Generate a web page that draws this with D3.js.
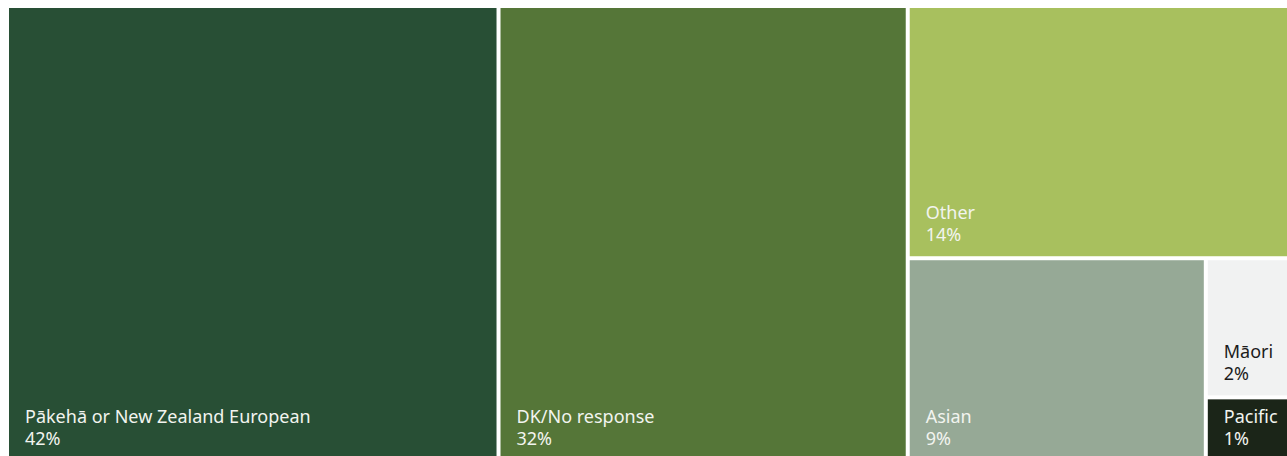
<!DOCTYPE html>
<html>
<head>
<meta charset="utf-8">
<script src="https://cdn.jsdelivr.net/npm/d3@7"></script>
<style>
  html, body { margin: 0; padding: 0; background: #ffffff; overflow: hidden; }
  svg { display: block; }
  text { font-family: "Noto Sans", Roboto, sans-serif; }
</style>
</head>
<body>
<svg id="chart" width="1287" height="456"></svg>
<script>
// Category names, displayed percentages, and tile size shares
const categories = ["Pākehā or New Zealand European", "DK/No response", "Other", "Asian", "Māori", "Pacific"];
const percentLabels = [42, 32, 14, 9, 2, 1];
const areaShares = [38.34, 31.92, 16.45, 10.39, 1.98, 0.92];
const fillColors = ["#284f35", "#557638", "#a8c05e", "#96a996", "#f1f2f2", "#1b2518"];
const textColors = ["#f2f4ef", "#f2f4ef", "#f2f4ef", "#f2f4ef", "#1c1c1c", "#f2f4ef"];

const svg = d3.select("#chart");
const margin = { left: 9, top: 8 };
const width = 1278, height = 452;

const rows = categories.map((c, i) => ({
  name: c, pct: percentLabels[i], size: areaShares[i],
  fill: fillColors[i], text: textColors[i]
}));

const root = d3.hierarchy({ children: rows }).sum(d => d.size || 0);

d3.treemap()
  .tile(d3.treemapBinary)
  .size([width, height])
  .paddingInner(4)
  .round(false)(root);

const g = svg.append("g").attr("transform", `translate(${margin.left},${margin.top})`);

const cell = g.selectAll("g.cell")
  .data(root.leaves())
  .join("g")
  .attr("class", "cell");

cell.append("rect")
  .attr("x", d => d.x0)
  .attr("y", d => d.y0)
  .attr("width", d => d.x1 - d.x0)
  .attr("height", d => d.y1 - d.y0)
  .attr("fill", d => d.data.fill);

const fontSize = 18;
cell.append("text")
  .attr("x", d => d.x0 + 16)
  .attr("y", d => d.y1 - 15 - 22)
  .attr("fill", d => d.data.text)
  .style("font-size", fontSize + "px")
  .text(d => d.data.name);

cell.append("text")
  .attr("x", d => d.x0 + 16)
  .attr("y", d => d.y1 - 15)
  .attr("fill", d => d.data.text)
  .style("font-size", fontSize + "px")
  .text(d => d3.format("d")(d.data.pct) + "%");
</script>
</body>
</html>
